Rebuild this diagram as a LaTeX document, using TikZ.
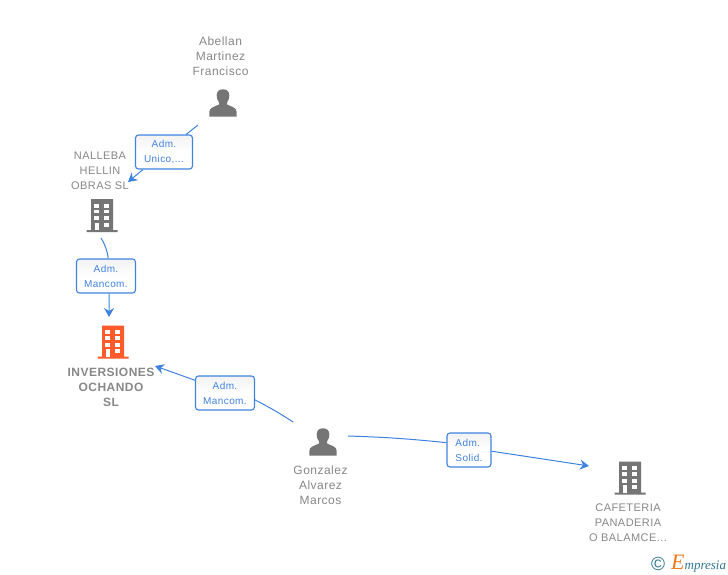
\documentclass[tikz,border=0pt]{standalone}
\usepackage{fontspec}
\setmainfont[LetterSpace=4]{Liberation Sans}
\newfontfamily\logofont{Liberation Serif}
\usetikzlibrary{arrows.meta}
\definecolor{linkblue}{HTML}{3F83E0}
\definecolor{labelgray}{HTML}{888888}
\definecolor{icongray}{HTML}{757575}
\definecolor{iconred}{HTML}{FF5A2B}
\definecolor{logoteal}{HTML}{2F7590}
\definecolor{logoorange}{HTML}{EE7A1A}
\tikzset{
	linkline/.style={draw=linkblue,line width=1pt},
	linkarrow/.style={linkline,-{Stealth[length=9pt,width=10pt,inset=3pt]}},
	rolebox/.style={draw=linkblue,line width=1.1pt,rounded corners=3pt,top color=black!5,bottom color=white,middle color=white,text=linkblue,align=center,inner sep=0pt,font=\fontsize{10}{15}\selectfont},
	entlabel/.style={text=labelgray,align=center,inner sep=0pt,font=\fontsize{12}{15}\selectfont},
	capslabel/.style={entlabel,font=\fontsize{11}{15}\selectfont},
	pics/buildingicon/.style={code={
		\fill[pic actions] (-11,-16.5) rectangle (11,14.5) (-15.5,14.5) rectangle (15.5,16.5);
		\foreach \wy in {-11.7,-5.8,0.8} {
			\fill[white] (-7.7,\wy) rectangle (-2.6,\wy+3.7);
			\fill[white] (2.2,\wy) rectangle (7.3,\wy+3.7);
		}
		\fill[white] (-7,7.2) rectangle (-3.3,14.5);
		\fill[white] (2.2,7.2) rectangle (7.3,11);
	}},
	pics/personicon/.style={code={
		\fill[pic actions] (-13.7,13.7) -- (13.7,13.7) -- (13.7,9) .. controls (13.7,4.5) and (8,3.5) .. (4,1.5) -- (4,-0.5) .. controls (6,-3) and (6.5,-6) .. (6.3,-8) .. controls (6,-12) and (3.5,-13.7) .. (0,-13.7) .. controls (-3.5,-13.7) and (-6,-12) .. (-6.3,-8) .. controls (-6.5,-6) and (-6,-3) .. (-4,-0.5) -- (-4,1.5) .. controls (-8,3.5) and (-13.7,4.5) .. (-13.7,9) -- cycle;
	}}
}
\begin{document}
\begin{tikzpicture}[x=1pt,y=-1pt]
	\useasboundingbox[fill=white] (0,0) rectangle (728,575);
	\pic[fill=icongray] at (223,103) {personicon};
	\pic[fill=icongray] at (323,442) {personicon};
	\pic[fill=icongray] at (102,215.5) {buildingicon};
	\pic[fill=iconred] at (113,342) {buildingicon};
	\pic[fill=icongray] at (630,478) {buildingicon};
	\node[entlabel] (abellan) at (220.5,56) {Abellan\\Martinez\\Francisco};
	\node[capslabel] (nalleba) at (100,170.5) {NALLEBA\\HELLIN\\OBRAS SL};
	\node[entlabel,font=\fontsize{12}{15}\selectfont\bfseries] (inversiones) at (111,387) {INVERSIONES\\OCHANDO\\SL};
	\node[entlabel] (gonzalez) at (320.5,485) {Gonzalez\\Alvarez\\Marcos};
	\node[capslabel] (cafeteria) at (628,522.5) {CAFETERIA\\PANADERIA\\O BALAMCE...};
	\node[rolebox,minimum width=57pt,minimum height=34pt] (boxa) at (164,152) {Adm.\\[0.5pt]Unico,...};
	\node[rolebox,minimum width=59pt,minimum height=34pt] (boxb) at (106,276) {Adm.\\Mancom.};
	\node[rolebox,minimum width=59pt,minimum height=34pt] (boxc) at (225,393) {Adm.\\Mancom.};
	\node[rolebox,minimum width=44pt,minimum height=34pt,align=left] (boxd) at (469,450) {Adm.\\Solid.};
	\coordinate (abellanout) at (198,125);
	\coordinate (nallebain) at (128,182);
	\coordinate (nallebaout) at (101,238);
	\coordinate (inversionestop) at (109,317);
	\coordinate (inversionesin) at (155,366);
	\coordinate (gonzalezleft) at (293,422);
	\coordinate (gonzalezright) at (348,436);
	\coordinate (cafeteriain) at (589,466);
	\draw[linkline] (abellanout) -- (boxa);
	\draw[linkarrow] (boxa) -- (nallebain);
	\draw[linkline] (nallebaout) to[bend left=12] (boxb.83);
	\draw[linkarrow] (boxb.-80) -- (inversionestop);
	\draw[linkline] (gonzalezleft) to[bend right=3] (boxc.-13);
	\draw[linkarrow] (boxc.157) -- (inversionesin);
	\draw[linkline] (gonzalezright) to[bend left=2] (boxd.162);
	\draw[linkarrow] (boxd.-3) -- (cafeteriain);
	\node[text=logoteal,inner sep=0pt,font=\fontsize{19}{19}\selectfont] (logoc) at (658,564) {\textcopyright};
	\node[inner sep=0pt,anchor=west,font=\fontsize{13}{15}\logofont\itshape,text=logoteal] (logo) at (671,564) {\textcolor{logoorange}{\fontsize{22}{15}\selectfont E}mpresia};
\end{tikzpicture}
\end{document}
